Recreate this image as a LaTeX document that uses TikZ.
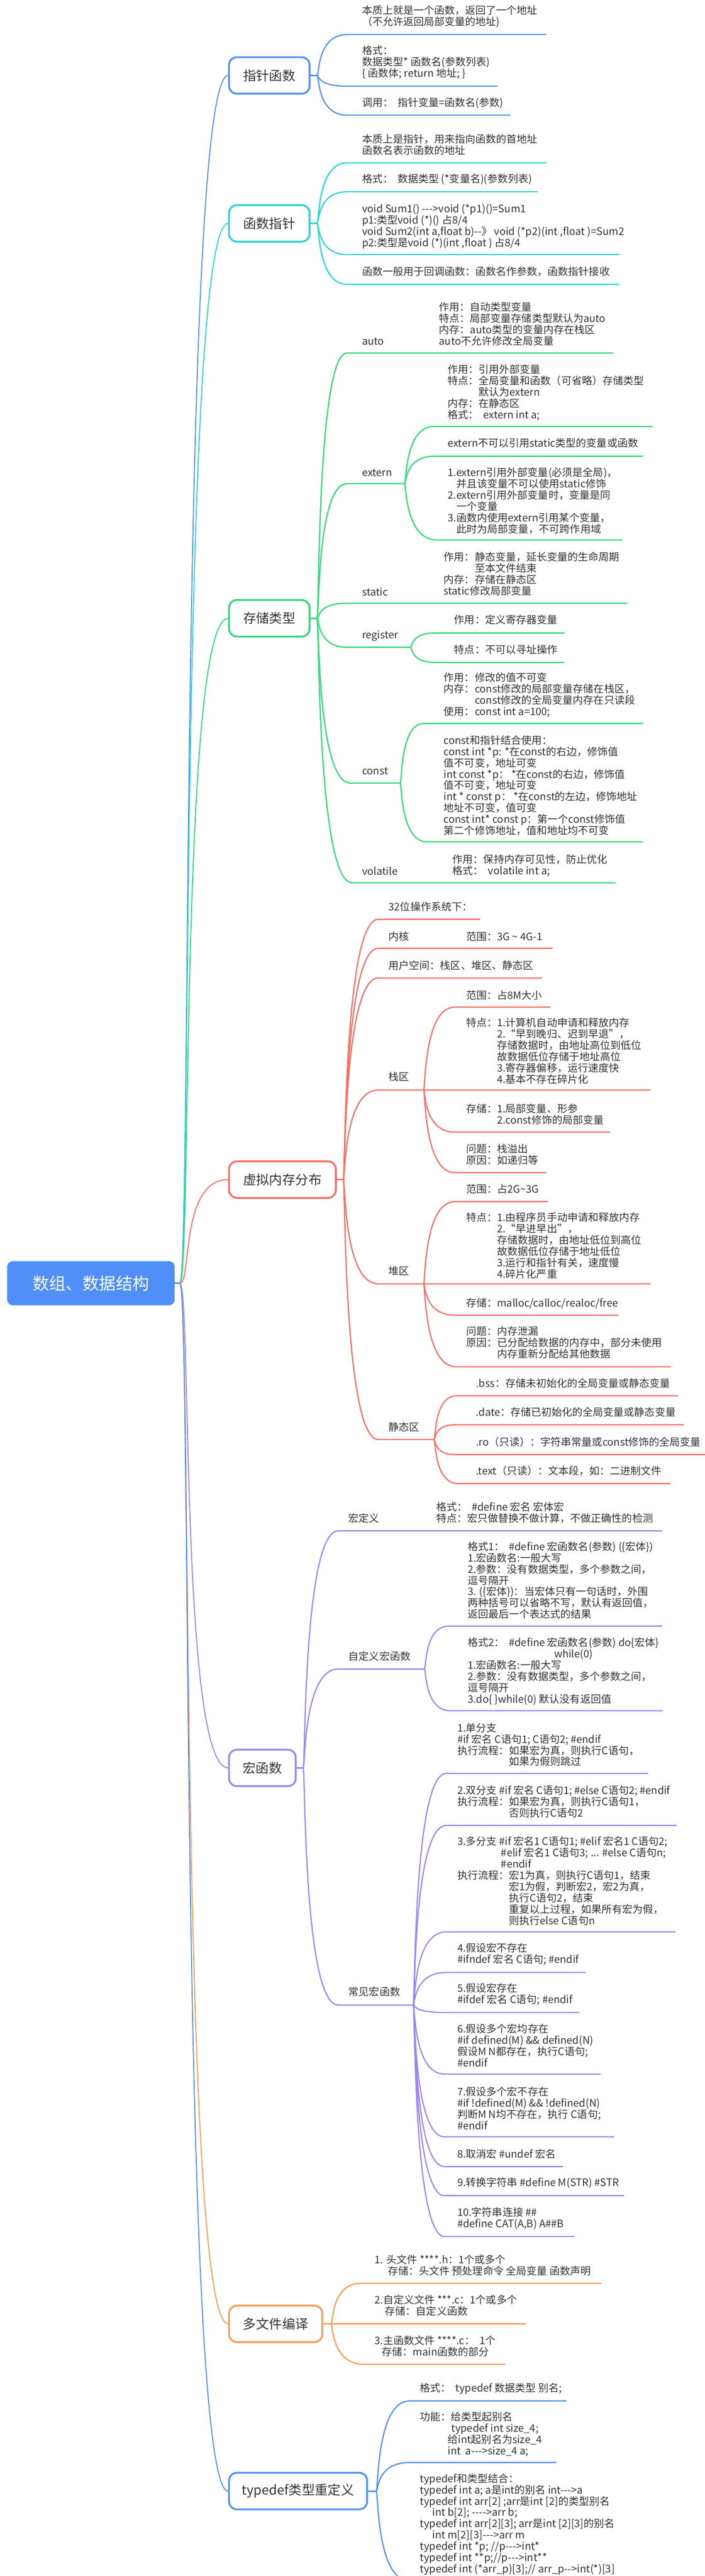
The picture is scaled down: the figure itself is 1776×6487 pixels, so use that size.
\documentclass[tikz,border=0pt]{standalone}
\usepackage{fontspec}
\setmainfont{Noto Sans CJK SC}[Ligatures=TeXOff]
\usetikzlibrary{calc}
\definecolor{cblue}{HTML}{4F8FF7}
\definecolor{ccyan}{HTML}{26D4D4}
\definecolor{cgreen}{HTML}{2CDB72}
\definecolor{cred}{HTML}{FF6B60}
\definecolor{cpurple}{HTML}{9C84F5}
\definecolor{corange}{HTML}{FF9A50}
\definecolor{txt}{HTML}{333333}
\tikzset{
 tx/.style={anchor=west, align=left, inner sep=0pt, text=txt, font=\fontsize{26}{28.5}\selectfont},
 bx/.style={draw=#1, line width=4.5pt, rounded corners=20pt, fill=white, text=txt, font=\fontsize{33}{36}\selectfont, inner sep=0pt, minimum height=92pt},
 rootbox/.style={fill=cblue, rounded corners=14pt, text=white, font=\fontsize{42}{46}\selectfont, inner sep=0pt, minimum width=422pt, minimum height=111pt},
 ln/.style={draw=#1, line width=3pt},
 stub/.style={draw=#1, line width=4pt},
 tr/.style={draw=#1, line width=2.5pt},
}
\newcommand\mmul[5]{%
 \coordinate (#3s) at (#4);
 \coordinate (#3e) at (#5);
 \draw[ln=#1] (#2) .. controls ($(#2)+(5,0)$) and (#2 |- #3s) .. (#3s) -- (#3e);}
\newcommand\mmtr[2]{\draw[tr=#1] (R) .. controls ($(R)+(30,0)$) and (R |- #2.west) .. (#2.west);}
\begin{document}
\begin{tikzpicture}[x=1pt,y=-1pt]
\path[use as bounding box] (0,0) rectangle (1776,6487);
\clip (0,0) rectangle (1776,6487);
\fill[white] (0,0) rectangle (1776,6487);

% ---------- root and branch boxes ----------
\node[rootbox] (root) at (229,3231.5) {数组、数据结构};
\coordinate (R) at (453,3231.5);
\draw[stub=cblue] (root.east) -- (R);

\node[bx=cblue, minimum width=203pt] (n1) at (678.5,190) {指针函数};
\node[bx=ccyan, minimum width=203pt] (n2) at (678.5,562.5) {函数指针};
\node[bx=cgreen, minimum width=203pt] (n3) at (678.5,1557) {存储类型};
\node[bx=cred, minimum width=269pt] (n4) at (711.5,2970.5) {虚拟内存分布};
\node[bx=cpurple, minimum width=168pt] (n5) at (661,4452) {宏函数};
\node[bx=corange, minimum width=235pt] (n6) at (694.5,5852) {多文件编译};
\node[bx=cblue, minimum width=348pt] (n7) at (751,6273) {typedef类型重定义};

\mmtr{cblue}{n1}
\mmtr{ccyan}{n2}
\mmtr{cgreen}{n3}
\mmtr{cred}{n4}
\mmtr{cpurple}{n5}
\mmtr{corange}{n6}
\mmtr{cblue}{n7}

% ---------- 指针函数 ----------
\coordinate (J1) at (799,190);
\draw[stub=cblue] (n1.east) -- (J1);
\mmul{cblue}{J1}{a1}{874,87}{1376,87}
\node[tx] (ta1) at (912,42) {本质上就是一个函数，返回了一个地址\\（不允许返回局部变量的地址)};
\mmul{cblue}{J1}{a2}{874,217}{1253,217}
\node[tx] (ta2) at (912,157) {格式：\\数据类型* 函数名(参数列表)\\\{ 函数体; return 地址; \}};
\mmul{cblue}{J1}{a3}{874,290}{1286,290}
\node[tx] (ta3) at (912,259) {调用：\ \ 指针变量=函数名(参数)};

% ---------- 函数指针 ----------
\coordinate (J2) at (799,562.5);
\draw[stub=ccyan] (n2.east) -- (J2);
\mmul{ccyan}{J2}{b1}{874,410}{1376,410}
\node[tx] (tb1) at (912,364) {本质上是指针，用来指向函数的首地址\\函数名表示函数的地址};
\mmul{ccyan}{J2}{b2}{874,483}{1354,483}
\node[tx] (tb2) at (912,451) {格式：\ \ 数据类型 (*变量名)(参数列表)};
\mmul{ccyan}{J2}{b3}{874,641}{1560,641}
\node[tx] (tb3) at (912,570) {void Sum1() --->void (*p1)()=Sum1\\p1:类型void (*)() 占8/4\\void Sum2(int a,float b)--》 void (*p2)(int ,float )=Sum2\\p2:类型是void (*)(int ,float ) 占8/4};
\mmul{ccyan}{J2}{b4}{874,716}{1560,716}
\node[tx] (tb4) at (912,684) {函数一般用于回调函数：函数名作参数，函数指针接收};

% ---------- 存储类型 ----------
\coordinate (J3) at (799,1557);
\draw[stub=cgreen] (n3.east) -- (J3);
\mmul{cgreen}{J3}{c1}{874,889}{1545,889}
\node[tx] (tc1) at (912,860) {auto};
\node[tx] (tc1a) at (1106,816) {作用：自动类型变量\\特点：局部变量存储类型默认为auto\\内存：auto类型的变量内存在栈区\\auto不允许修改全局变量};

\mmul{cgreen}{J3}{c2}{874,1218}{1019,1218}
\node[tx] (tc2) at (912,1190) {extern};
\mmul{cgreen}{c2e}{d1}{1093,1074}{1644,1074}
\node[tx] (td1) at (1128,988) {作用：引用外部变量\\特点：全局变量和函数（可省略）存储类型\\\hspace*{3em}默认为extern\\内存：在静态区\\格式：\ \ extern int a;};
\mmul{cgreen}{c2e}{d2}{1093,1149}{1620,1149}
\node[tx] (td2) at (1128,1116) {extern不可以引用static类型的变量或函数};
\mmul{cgreen}{c2e}{d3}{1102,1360}{1567,1360}
\node[tx] (td3) at (1128,1261) {1.extern引用外部变量(必须是全局)，\\\hspace*{22pt}并且该变量不可以使用static修饰\\2.extern引用外部变量时，变量是同\\\hspace*{22pt}一个变量\\3.函数内使用extern引用某个变量，\\\hspace*{22pt}此时为局部变量，不可跨作用域};

\mmul{cgreen}{J3}{c3}{874,1519}{1580,1519}
\node[tx] (tc3) at (912,1490) {static};
\node[tx] (tc3a) at (1118,1445) {作用：静态变量，延长变量的生命周期\\\hspace*{3em}至本文件结束\\内存：存储在静态区\\static修改局部变量};

\mmul{cgreen}{J3}{c4}{874,1630}{1034,1630}
\node[tx] (tc4) at (912,1601) {register};
\mmul{cgreen}{c4e}{d4}{1095,1594}{1422,1594}
\node[tx] (td4) at (1144,1561) {作用：定义寄存器变量};
\mmul{cgreen}{c4e}{d5}{1095,1668}{1422,1668}
\node[tx] (td5) at (1144,1636) {特点：不可以寻址操作};

\mmul{cgreen}{J3}{c5}{883,1972}{1008,1972}
\node[tx] (tc5) at (912,1942) {const};
\mmul{cgreen}{c5e}{d6}{1067,1822}{1620,1822}
\node[tx] (td6) at (1118,1750.5) {作用：修改的值不可变\\内存：const修改的局部变量存储在栈区，\\\hspace*{3em}const修改的全局变量内存在只读段\\使用：const int a=100;};
\mmul{cgreen}{c5e}{d7}{1076,2120}{1620,2120}
\node[tx] (td7) at (1118,1978) {const和指针结合使用：\\const int *p: *在const的右边，修饰值\\值不可变，地址可变\\int const *p： *在const的右边，修饰值\\值不可变，地址可变\\int * const p： *在const的左边，修饰地址\\地址不可变，值可变\\const int* const p：第一个const修饰值\\第二个修饰地址，值和地址均不可变};

\mmul{cgreen}{J3}{c6}{887,2223}{1551,2223}
\node[tx] (tc6) at (912,2193) {volatile};
\node[tx] (tc6a) at (1140,2179) {作用：保持内存可见性，防止优化\\格式：\ \ volatile int a;};

% ---------- 虚拟内存分布 ----------
\coordinate (J4) at (865,2970.5);
\draw[stub=cred] (n4.east) -- (J4);
\mmul{cred}{J4}{e1}{953,2315}{1209,2315}
\node[tx] (te1) at (979,2283) {32位操作系统下：};
\mmul{cred}{J4}{e2}{953,2388}{1392,2388}
\node[tx] (te2) at (979,2358) {内核};
\node[tx] (te2a) at (1174,2358) {范围：3G \textasciitilde{} 4G-1};
\mmul{cred}{J4}{e3}{953,2463}{1365,2463}
\node[tx] (te3) at (979,2431) {用户空间：栈区、堆区、静态区};

\mmul{cred}{J4}{e4}{953,2745}{1639,2745}
\node[tx] (te4) at (979,2712) {栈区};
\coordinate (Jstk) at (1067,2745);
\mmul{cred}{Jstk}{f1}{1146,2536}{1387,2536}
\node[tx] (tf1) at (1174,2506) {范围：占8M大小};
\node[tx] (tf2) at (1174,2647) {特点：1.计算机自动申请和释放内存\\\hspace*{3em}2.“早到晚归、迟到早退”，\\\hspace*{3em}存储数据时，由地址高位到低位\\\hspace*{3em}故数据低位存储于地址高位\\\hspace*{3em}3.寄存器偏移，运行速度快\\\hspace*{3em}4.基本不存在碎片化};
\mmul{cred}{Jstk}{f3}{1146,2851}{1537,2851}
\node[tx] (tf3) at (1174,2806) {存储：1.局部变量、形参\\\hspace*{3em}2.const修饰的局部变量};
\mmul{cred}{Jstk}{f4}{1146,2953}{1376,2953}
\node[tx] (tf4) at (1174,2907) {问题：栈溢出\\原因：如递归等};

\mmul{cred}{J4}{e5}{953,3233}{1639,3233}
\node[tx] (te5) at (979,3200) {堆区};
\coordinate (Jheap) at (1067,3233);
\mmul{cred}{Jheap}{g1}{1146,3026}{1380,3026}
\node[tx] (tg1) at (1174,2994) {范围：占2G\textasciitilde 3G};
\node[tx] (tg2) at (1174,3136.5) {特点：1.由程序员手动申请和释放内存\\\hspace*{3em}2.“早进早出”，\\\hspace*{3em}存储数据时，由地址低位到高位\\\hspace*{3em}故数据低位存储于地址低位\\\hspace*{3em}3.运行和指针有关，速度慢\\\hspace*{3em}4.碎片化严重};
\mmul{cred}{Jheap}{g3}{1146,3312}{1558,3312}
\node[tx] (tg3) at (1174,3282) {存储：malloc/calloc/realoc/free};
\mmul{cred}{Jheap}{g4}{1150,3442}{1690,3442}
\node[tx] (tg4) at (1174,3381) {问题：内存泄漏\\原因：已分配给数据的内存中，部分未使用\\\hspace*{3em}内存重新分配给其他数据};

\mmul{cred}{J4}{e6}{953,3625}{1093,3625}
\node[tx] (te6) at (979,3593) {静态区};
\mmul{cred}{e6e}{h1}{1150,3515}{1708,3515}
\node[tx] (th1) at (1199,3483) {.bss：存储未初始化的全局变量或静态变量};
\mmul{cred}{e6e}{h2}{1146,3588}{1723,3588}
\node[tx] (th2) at (1199,3556) {.date：存储已初始化的全局变量或静态变量};
\mmul{cred}{e6e}{h3}{1146,3663}{1776,3663}
\node[tx] (th3) at (1199,3631) {.ro（只读）：字符串常量或const修饰的全局变量};
\mmul{cred}{e6e}{h4}{1155,3736}{1688,3736}
\node[tx] (th4) at (1199,3704) {.text（只读）：文本段，如：二进制文件};

% ---------- 宏函数 ----------
\coordinate (J5) at (764,4452);
\draw[stub=cpurple] (n5.east) -- (J5);
\mmul{cpurple}{J5}{k1}{852,3855}{1668,3855}
\node[tx] (tk1) at (878,3823) {宏定义};
\node[tx] (tk1a) at (1099,3809.5) {格式：\ \ \#define 宏名 宏体宏\\特点：宏只做替换不做计算，不做正确性的检测};

\mmul{cpurple}{J5}{k2}{852,4203}{1069,4203}
\node[tx] (tk2) at (878,4171) {自定义宏函数};
\mmul{cpurple}{k2e}{m1}{1130,4095}{1668,4095}
\node[tx] (tm1) at (1178,3979.5) {格式1：\ \ \#define 宏函数名(参数) (\{宏体\})\\1.宏函数名:一般大写\\2.参数：没有数据类型，多个参数之间，\\逗号隔开\\3. (\{宏体\})：当宏体只有一句话时，外围\\两种括号可以省略不写，默认有返回值，\\返回最后一个表达式的结果};
\mmul{cpurple}{k2e}{m2}{1135,4308}{1670,4308}
\node[tx] (tm2) at (1178,4208.5) {格式2：\ \ \#define 宏函数名(参数) do\{宏体\}\\\hspace*{218pt}while(0)\\1.宏函数名:一般大写\\2.参数：没有数据类型，多个参数之间，\\逗号隔开\\3.do\{ \}while(0) 默认没有返回值};

\mmul{cpurple}{J5}{k3}{852,5049}{1041,5049}
\node[tx] (tk3) at (878,5016) {常见宏函数};
\mmul{cpurple}{k3e}{r1}{1124,4466}{1633,4466}
\node[tx] (tr1) at (1152,4393.5) {1.单分支\\\#if 宏名 C语句1; C语句2; \#endif\\执行流程：如果宏为真，则执行C语句，\\\hspace*{5em}如果为假则跳过};
\mmul{cpurple}{k3e}{r2}{1124,4597}{1705,4597}
\node[tx] (tr2) at (1152,4537) {2.双分支 \#if 宏名 C语句1; \#else C语句2; \#endif\\执行流程：如果宏为真，则执行C语句1，\\\hspace*{5em}否则执行C语句2};
\mmul{cpurple}{k3e}{r3}{1124,4865}{1701,4865}
\node[tx] (tr3) at (1152,4736.5) {3.多分支 \#if 宏名1 C语句1; \#elif 宏名1 C语句2;\\\hspace*{110pt}\#elif 宏名1 C语句3; ... \#else C语句n;\\\hspace*{110pt}\#endif\\执行流程：宏1为真，则执行C语句1，结束\\\hspace*{5em}宏1为假，判断宏2，宏2为真，\\\hspace*{5em}执行C语句2，结束\\\hspace*{5em}重复以上过程，如果所有宏为假，\\\hspace*{5em}则执行else C语句n};
\mmul{cpurple}{k3e}{r4}{1124,4967}{1475,4967}
\node[tx] (tr4) at (1152,4921) {4.假设宏不存在\\\#ifndef 宏名 C语句; \#endif};
\mmul{cpurple}{k3e}{r5}{1120,5068}{1459,5068}
\node[tx] (tr5) at (1152,5022) {5.假设宏存在\\\#ifdef 宏名 C语句; \#endif};
\mmul{cpurple}{k3e}{r6}{1120,5223}{1513,5223}
\node[tx] (tr6) at (1152,5150.5) {6.假设多个宏均存在\\\#if defined(M) \&\& defined(N)\\假设M N都存在，执行C语句;\\\#endif};
\mmul{cpurple}{k3e}{r7}{1120,5381}{1547,5381}
\node[tx] (tr7) at (1152,5308.5) {7.假设多个宏不存在\\\#if !defined(M) \&\& !defined(N)\\判断M N均不存在，执行 C语句;\\\#endif};
\mmul{cpurple}{k3e}{r8}{1120,5456}{1418,5456}
\node[tx] (tr8) at (1152,5424) {8.取消宏 \#undef 宏名};
\mmul{cpurple}{k3e}{r9}{1120,5529}{1572,5529}
\node[tx] (tr9) at (1152,5497) {9.转换字符串 \#define M(STR) \#STR};
\mmul{cpurple}{k3e}{r10}{1120,5632}{1446,5632}
\node[tx] (tr10) at (1152,5586.5) {10.字符串连接 \#\#\\\#define CAT(A,B) A\#\#B};

% ---------- 多文件编译 ----------
\coordinate (J6) at (834,5852);
\draw[stub=corange] (n6.east) -- (J6);
\mmul{corange}{J6}{p1}{909,5750}{1515,5750}
\node[tx] (tp1) at (944,5704) {1. 头文件 ****.h：1个或多个\\\hspace*{33pt}存储：头文件 预处理命令 全局变量 函数声明};
\coordinate (p2e) at (1324,5852);
\draw[ln=corange] (J6) -- (p2e);
\node[tx] (tp2) at (944,5805) {2.自定义文件 ***.c：1个或多个\\\hspace*{26pt}存储：自定义函数};
\mmul{corange}{J6}{p3}{918,5954}{1273,5954}
\node[tx] (tp3) at (944,5907.5) {3.主函数文件 ****.c：\ \ 1个\\\hspace*{18pt}存储：main函数的部分};

% ---------- typedef类型重定义 ----------
\coordinate (J7) at (948,6273);
\draw[stub=cblue] (n7.east) -- (J7);
\mmul{cblue}{J7}{q1}{1032,6046}{1427,6046}
\node[tx] (tq1) at (1058,6015) {格式：\ \ typedef 数据类型 别名;};
\mmul{cblue}{J7}{q2}{1032,6201}{1402,6201}
\node[tx] (tq2) at (1058,6129.5) {功能：给类型起别名\\\hspace*{79pt}typedef int size\_4;\\\hspace*{70pt}给int起别名为size\_4\\\hspace*{70pt}int\ \ a--->size\_4 a;};
\mmul{cblue}{J7}{q3}{1032,6499}{1450,6499}
\node[tx] (tq3) at (1058,6357) {typedef和类型结合：\\typedef int a; a是int的别名 int--->a\\typedef int arr[2] ;arr是int [2]的类型别名\\\hspace*{31pt}int b[2]; ---->arr b;\\typedef int arr[2][3]; arr是int [2][3]的别名\\\hspace*{31pt}int m[2][3]--->arr m\\typedef int *p; //p--->int*\\typedef int **p;//p--->int**\\typedef int (*arr\_p)[3];// arr\_p-->int(*)[3]};
\end{tikzpicture}
\end{document}
